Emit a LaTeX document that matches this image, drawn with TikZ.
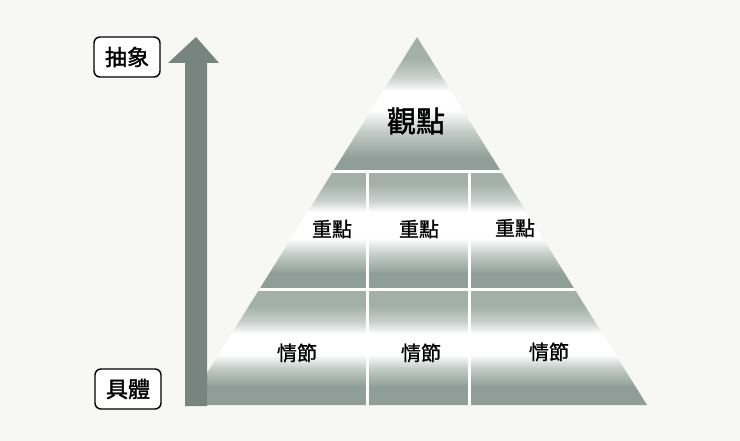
\documentclass[tikz,border=0pt]{standalone}
\usepackage{fontspec}
\setmainfont{Noto Sans CJK TC}
\newfontfamily\cjkbold[FakeBold=1.6]{Noto Sans CJK TC}
\newfontfamily\cjkmed[FakeBold=1.0]{Noto Sans CJK TC}
\definecolor{bg}{HTML}{F7F7F5}
\definecolor{gtop}{HTML}{A3B0AA}
\definecolor{gbot}{HTML}{8F9E98}
\definecolor{gtopm}{HTML}{C9D1CD}
\definecolor{gbotm}{HTML}{C3CCC8}
\definecolor{arrowc}{HTML}{77847F}
\pgfdeclareverticalshading{tierA}{100bp}{color(0bp)=(gbot); color(30bp)=(gbot); color(40bp)=(gbotm); color(48bp)=(white); color(55bp)=(white); color(60bp)=(gtopm); color(67bp)=(gtop); color(100bp)=(gtop)}
\pgfdeclareverticalshading{tierB}{100bp}{color(0bp)=(gbot); color(32bp)=(gbot); color(40bp)=(gbotm); color(47bp)=(white); color(58bp)=(white); color(63bp)=(gtopm); color(70bp)=(gtop); color(100bp)=(gtop)}
\pgfdeclareverticalshading{tierC}{100bp}{color(0bp)=(gbot); color(33bp)=(gbot); color(41bp)=(gbotm); color(47bp)=(white); color(56bp)=(white); color(61bp)=(gtopm); color(68bp)=(gtop); color(100bp)=(gtop)}
\begin{document}
\begin{tikzpicture}[x=1pt,y=-1pt,
  lbl/.style={draw=black, line width=1.4pt, rounded corners=6pt, minimum width=66pt, minimum height=40pt, inner sep=0pt, fill=white, font=\cjkbold\fontsize{22}{24}\selectfont},
  cell/.style={font=\cjkmed\fontsize{20}{22}\selectfont, inner sep=0pt},
  divider/.style={draw=white, line width=3pt}]
\fill[bg] (0,0) rectangle (740,441);
\useasboundingbox (0,0) rectangle (740,441);
% pyramid
\begin{scope}
\clip (417,37) -- (647,405) -- (187,405) -- cycle;
\shade[shading=tierA] (180,37) rectangle (660,172);
\shade[shading=tierB] (180,172) rectangle (660,290);
\shade[shading=tierC] (180,290) rectangle (660,405);
\path[divider] (180,172) -- (660,172);
\path[divider] (180,290) -- (660,290);
\path[divider] (367,172) -- (367,406);
\path[divider] (469,172) -- (469,406);
\end{scope}
% arrow
\fill[arrowc] (185,406) -- (185,63) -- (168,63) -- (196,37) -- (219,63) -- (207,63) -- (207,406) -- cycle;
% labels
\node[lbl] (abs) at (127,57) {抽象};
\node[lbl] (con) at (128,389) {具體};
\node[font=\cjkbold\fontsize{29}{31}\selectfont, inner sep=0pt] (view) at (416,121) {觀點};
\node[cell] (k1) at (332,229) {重點};
\node[cell] (k2) at (419,229) {重點};
\node[cell] (k3) at (515,228) {重點};
\node[cell] (e1) at (297,353) {情節};
\node[cell] (e2) at (421,353) {情節};
\node[cell] (e3) at (549,352) {情節};
\end{tikzpicture}
\end{document}
